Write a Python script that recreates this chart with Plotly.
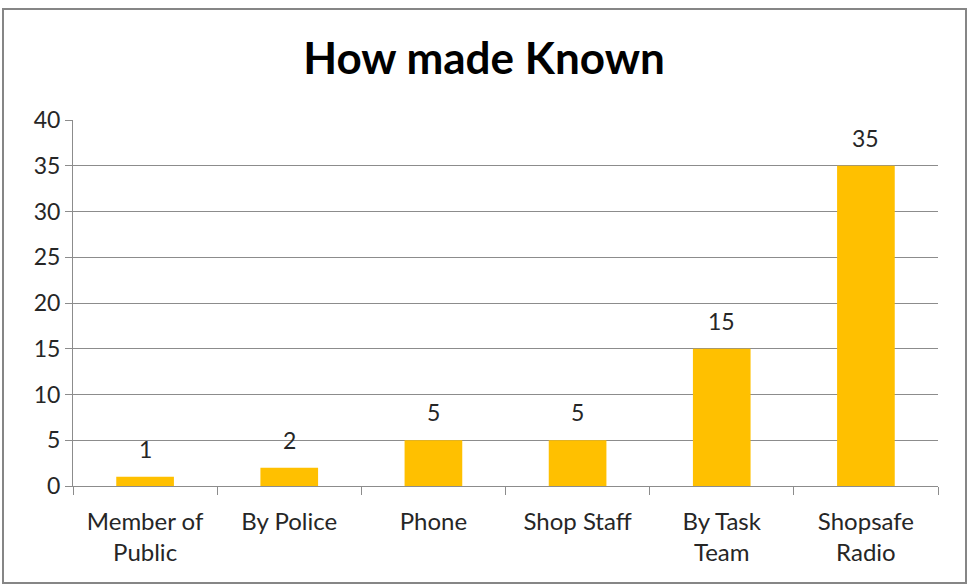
import plotly.graph_objects as go

# Source of each report and how many times it occurred
categories = ["Member of<br>Public", "By Police", "Phone", "Shop Staff",
              "By Task<br>Team", "Shopsafe<br>Radio"]
counts = [1, 2, 5, 5, 15, 35]
y_ticks = [0, 5, 10, 15, 20, 25, 30, 35, 40]

FONT = "Lato"
GOLD = "#FFC000"
GRID = "#8C8C8C"
TEXT = "#262626"
LABEL_SIZE = 23

W, H = 968, 586
ML, MR, MT, MB = 73, 30, 120, 100

fig = go.Figure(
    go.Bar(
        x=categories,
        y=counts,
        marker=dict(color=GOLD, line=dict(width=0)),
        width=0.4,
        hoverinfo="x+y",
    )
)

# value labels floating above each bar
for cat, val in zip(categories, counts):
    fig.add_annotation(
        x=cat, y=val, xref="x", yref="y",
        text=str(val), showarrow=False,
        yanchor="middle", yshift=28,
        font=dict(family=FONT, size=LABEL_SIZE, color=TEXT),
    )

# outer chart frame
pw, ph = W - ML - MR, H - MT - MB
fig.add_shape(
    type="rect", xref="paper", yref="paper",
    x0=(3 - ML) / pw, x1=(966 - ML) / pw,
    y0=(H - MB - 583) / ph, y1=(H - MB - 9) / ph,
    line=dict(color="#868686", width=2), fillcolor="rgba(0,0,0,0)",
    layer="below",
)

fig.update_layout(
    width=W, height=H,
    margin=dict(l=ML, r=MR, t=MT, b=MB),
    paper_bgcolor="white", plot_bgcolor="white",
    showlegend=False,
    title=dict(
        text="<b>How made Known</b>",
        x=0.5, xref="container", xanchor="center",
        y=1 - 59 / H, yanchor="middle",
        font=dict(family=FONT, size=44, color="black"),
    ),
    font=dict(family=FONT, size=LABEL_SIZE, color=TEXT),
    bargap=0.6,
)

fig.update_xaxes(
    showline=True, linecolor=GRID, linewidth=1,
    ticks="outside", ticklen=8, tickcolor=GRID,
    tickson="boundaries",
    showgrid=False,
    ticklabelstandoff=14,
    tickfont=dict(family=FONT, size=24, color=TEXT),
)
fig.update_yaxes(
    range=[0, 40], tickvals=y_ticks,
    showline=True, linecolor=GRID, linewidth=1,
    ticks="outside", ticklen=7, tickcolor=GRID,
    showgrid=True, gridcolor=GRID, gridwidth=1,
    zeroline=False,
    ticklabelstandoff=0,
    tickfont=dict(family=FONT, size=LABEL_SIZE, color=TEXT),
)

fig.write_html("out.html")
